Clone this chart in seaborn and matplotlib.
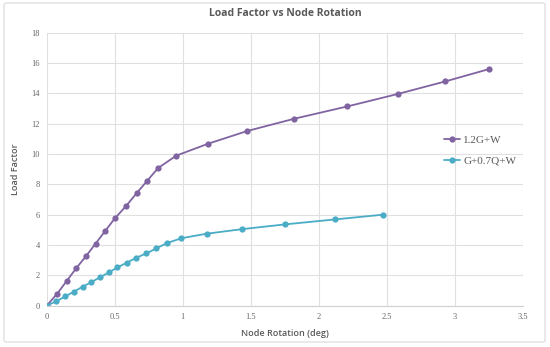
import numpy as np
import pandas as pd
import matplotlib
matplotlib.use('Agg')
import matplotlib.pyplot as plt
import seaborn as sns
from matplotlib.patches import FancyBboxPatch

# Dane
rot_a = [0, 0.078, 0.146, 0.216, 0.289, 0.359, 0.430, 0.500, 0.583, 0.660, 0.738,
         0.818, 0.951, 1.186, 1.474, 1.82, 2.21, 2.58, 2.93, 3.25]
lf_a = [0, 0.80, 1.62, 2.46, 3.27, 4.09, 4.93, 5.75, 6.57, 7.41, 8.23,
        9.07, 9.89, 10.68, 11.52, 12.33, 13.14, 13.96, 14.79, 15.6]

rot_b = [0, 0.070, 0.138, 0.201, 0.265, 0.328, 0.393, 0.456, 0.519, 0.587, 0.658,
         0.733, 0.806, 0.881, 0.990, 1.178, 1.438, 1.75, 2.12, 2.47]
lf_b = [0, 0.29, 0.62, 0.93, 1.26, 1.55, 1.88, 2.19, 2.52, 2.83, 3.16,
        3.45, 3.78, 4.12, 4.45, 4.75, 5.05, 5.36, 5.69, 6.0]

series_names = ['1.2G+W', 'G+0.7Q+W']
colors = ['#8064A2', '#4BACC6']

x_ticks = [0, 0.5, 1, 1.5, 2, 2.5, 3, 3.5]
y_ticks = [0, 2, 4, 6, 8, 10, 12, 14, 16, 18]

df = pd.concat([
    pd.DataFrame({'rot': rot_a, 'lf': lf_a, 'case': series_names[0]}),
    pd.DataFrame({'rot': rot_b, 'lf': lf_b, 'case': series_names[1]}),
])

sns.set_style('whitegrid')
plt.rcParams['font.family'] = ['Liberation Serif', 'DejaVu Serif']

fig = plt.figure(figsize=(5.5, 3.47), dpi=100)
ax = fig.add_axes([46.7 / 550, 1 - 305.7 / 347, (523 - 46.7) / 550, (305.7 - 32.7) / 347])

# ramka wokol wykresu
fig.patches.append(FancyBboxPatch((4 / 550, 5 / 347), 541 / 550, 339 / 347,
                                  boxstyle='round,pad=0,rounding_size=0.005',
                                  transform=fig.transFigure, facecolor='none',
                                  edgecolor='#d9d9d9', linewidth=0.8))

sns.lineplot(data=df, x='rot', y='lf', hue='case', palette=colors, marker='o',
             markersize=4.5, markeredgewidth=0, linewidth=1.3, sort=False,
             estimator=None, ax=ax)

ax.set_xlim(0, 3.5)
ax.set_ylim(0, 18)
ax.set_xticks(x_ticks)
ax.set_yticks(y_ticks)
ax.set_xticklabels([f'{t:g}' for t in x_ticks])
ax.set_yticklabels([f'{t:g}' for t in y_ticks])
ax.tick_params(axis='both', labelsize=6, colors='#666666', length=0, pad=5)
ax.grid(True, color='#e0e0e0', linewidth=0.8)
for side in ['top', 'right', 'left']:
    ax.spines[side].set_visible(False)
ax.spines['bottom'].set_color('#d0d0d0')
ax.spines['bottom'].set_linewidth(0.8)

label_font = dict(family=['Open Sans', 'DejaVu Sans'], fontsize=6.5,
                  color='#595959', fontweight='semibold')
ax.set_xlabel('Node Rotation (deg)', labelpad=6, **label_font)
ax.set_ylabel('Load Factor', labelpad=8, **label_font)
fig.text(0.518, 1 - 13 / 347, 'Load Factor vs Node Rotation', ha='center', va='center',
         family=['Open Sans', 'DejaVu Sans'], fontsize=7.5, fontweight='bold',
         color='#595959')

leg = ax.legend(loc='upper left', bbox_to_anchor=(0.813, 0.66), frameon=False,
                fontsize=8, handlelength=1.45, handletextpad=0.3, labelspacing=0.95)
for txt in leg.get_texts():
    txt.set_color('#595959')

fig.savefig('out.png', dpi=100)
